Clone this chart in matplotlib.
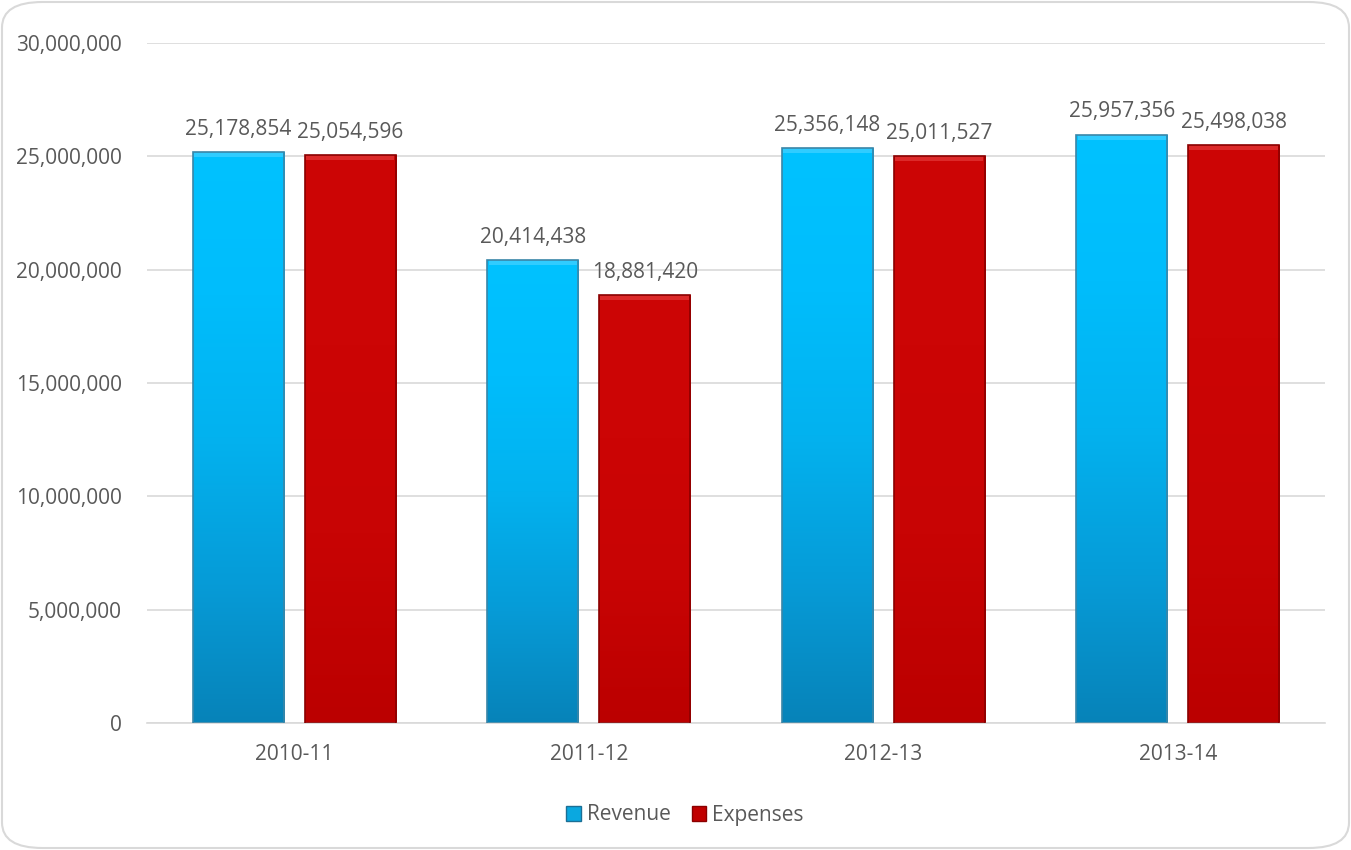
import numpy as np
import matplotlib.pyplot as plt
from matplotlib.patches import FancyBboxPatch
from matplotlib.colors import LinearSegmentedColormap
from matplotlib.ticker import FuncFormatter

plt.rcParams['font.family'] = ['Open Sans', 'DejaVu Sans']

years = ['2010-11', '2011-12', '2012-13', '2013-14']
revenue = [25178854, 20414438, 25356148, 25957356]
expenses = [25054596, 18881420, 25011527, 25498038]

text_col = '#595959'
fig = plt.figure(figsize=(13.51, 8.5), dpi=100)
ax = fig.add_axes([147 / 1351, 1 - 723 / 850, 1178 / 1351, 680 / 850])

# rounded chart border
fig.patches.append(FancyBboxPatch((2 / 1351, 2 / 850), 1347 / 1351, 846 / 850,
                                  boxstyle='round,pad=0,rounding_size=0.03',
                                  transform=fig.transFigure, fc='none',
                                  ec='#d9d9d9', lw=1.5))

x = np.arange(len(years))
w = 0.31
off = 0.19

blue_cm = LinearSegmentedColormap.from_list('b', ['#0783b9', '#069cd8', '#03b2ef', '#00bdfc', '#00c2ff'])
red_cm = LinearSegmentedColormap.from_list('r', ['#bb0000', '#c80404', '#cc0505', '#cd0606'])
grad = np.linspace(0, 1, 256).reshape(-1, 1)


def gradient_bars(xs, vals, cmap, edge, top):
    bars = ax.bar(xs, vals, w, color='none', edgecolor=edge, lw=1.2, zorder=3)
    for b in bars:
        x0, y0 = b.get_x(), b.get_y()
        im = ax.imshow(grad, cmap=cmap, origin='lower', aspect='auto',
                       extent=[x0, x0 + b.get_width(), y0, y0 + b.get_height()],
                       zorder=2)
        im.set_clip_path(b)
        # lighter bevel strip on top
        ax.bar(b.get_x() + b.get_width() / 2, 220000, b.get_width() * 0.97,
               bottom=y0 + b.get_height() - 220000, color=top, lw=0, zorder=2.5)
    return bars


rb = gradient_bars(x - off, revenue, blue_cm, '#3a86a8', '#30ccff')
eb = gradient_bars(x + off, expenses, red_cm, '#8a0000', '#dc2a2a')

for xs, vals in [(x - off, revenue), (x + off, expenses)]:
    for xi, v in zip(xs, vals):
        ax.text(xi, v + 550000, f'{v:,}', ha='center', va='bottom',
                fontsize=15, color=text_col)

ax.set_xlim(-0.5, 3.5)
ax.set_ylim(0, 30000000)
ax.set_yticks(np.arange(0, 30000001, 5000000))
ax.yaxis.set_major_formatter(FuncFormatter(lambda v, p: f'{int(v):,}'))
ax.set_xticks(x)
ax.set_xticklabels(years)
ax.tick_params(axis='both', length=0, labelsize=15, labelcolor=text_col)
ax.tick_params(axis='x', pad=15)
ax.tick_params(axis='y', pad=18)
ax.grid(axis='y', color='#d9d9d9', lw=1.2, zorder=0)
ax.set_axisbelow(True)
for s in ['top', 'right', 'left']:
    ax.spines[s].set_visible(False)
ax.spines['bottom'].set_color('#d9d9d9')
ax.spines['bottom'].set_linewidth(1.2)

h1 = plt.Rectangle((0, 0), 1, 1, fc='#0aa8e0', ec='#1b6f95')
h2 = plt.Rectangle((0, 0), 1, 1, fc='#c00000', ec='#8a0000')
fig.legend([h1, h2], ['Revenue', 'Expenses'], loc='center',
           bbox_to_anchor=(0.507, 1 - 815 / 850), ncol=2, frameon=False,
           fontsize=15, labelcolor=text_col, handlelength=0.7, handleheight=0.7,
           handletextpad=0.3, columnspacing=1.0)

fig.savefig('out.png', dpi=100)
